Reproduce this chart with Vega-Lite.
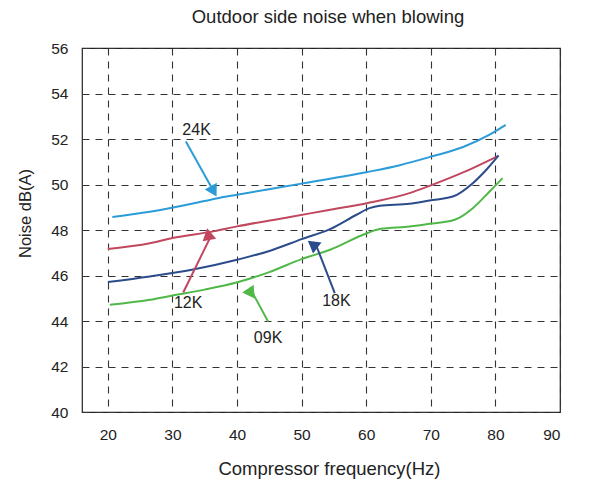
{
  "$schema": "https://vega.github.io/schema/vega-lite/v6.json",
  "width": 478,
  "height": 364,
  "autosize": "none",
  "padding": {"left": 82, "top": 48, "right": 29, "bottom": 74},
  "background": "white",
  "config": {
    "font": "Liberation Sans",
    "view": {"stroke": "#222", "strokeWidth": 1.2}
  },
  "title": {
    "text": "Outdoor side noise when blowing",
    "fontSize": 18.5,
    "fontWeight": "normal",
    "color": "#222",
    "anchor": "middle",
    "dx": 7,
    "offset": 15
  },
  "datasets": {
    "curves": [
      {"model": "24K", "f": 20.7, "db": 48.57},
      {"model": "24K", "f": 26.5, "db": 48.8},
      {"model": "24K", "f": 33, "db": 49.15},
      {"model": "24K", "f": 37, "db": 49.4},
      {"model": "24K", "f": 40, "db": 49.55},
      {"model": "24K", "f": 50.2, "db": 50.05},
      {"model": "24K", "f": 60.2, "db": 50.55},
      {"model": "24K", "f": 65.2, "db": 50.85},
      {"model": "24K", "f": 70.1, "db": 51.23},
      {"model": "24K", "f": 75, "db": 51.65},
      {"model": "24K", "f": 79.1, "db": 52.19},
      {"model": "24K", "f": 81.6, "db": 52.62},
      {"model": "12K", "f": 20, "db": 47.17},
      {"model": "12K", "f": 26.5, "db": 47.42},
      {"model": "12K", "f": 30, "db": 47.65},
      {"model": "12K", "f": 36.3, "db": 47.94},
      {"model": "12K", "f": 40, "db": 48.16},
      {"model": "12K", "f": 48.2, "db": 48.57},
      {"model": "12K", "f": 54, "db": 48.87},
      {"model": "12K", "f": 60.1, "db": 49.18},
      {"model": "12K", "f": 66.7, "db": 49.62},
      {"model": "12K", "f": 69.8, "db": 49.94},
      {"model": "12K", "f": 75, "db": 50.53},
      {"model": "12K", "f": 80.3, "db": 51.24},
      {"model": "18K", "f": 20, "db": 45.71},
      {"model": "18K", "f": 26.5, "db": 45.96},
      {"model": "18K", "f": 33, "db": 46.25},
      {"model": "18K", "f": 40, "db": 46.69},
      {"model": "18K", "f": 45, "db": 47.08},
      {"model": "18K", "f": 50, "db": 47.6},
      {"model": "18K", "f": 54.4, "db": 48.04},
      {"model": "18K", "f": 58.5, "db": 48.67},
      {"model": "18K", "f": 60.5, "db": 48.96},
      {"model": "18K", "f": 62.1, "db": 49.07},
      {"model": "18K", "f": 66.7, "db": 49.15},
      {"model": "18K", "f": 69.8, "db": 49.3},
      {"model": "18K", "f": 73.4, "db": 49.47},
      {"model": "18K", "f": 76.5, "db": 50.06},
      {"model": "18K", "f": 78.6, "db": 50.65},
      {"model": "18K", "f": 80.5, "db": 51.28},
      {"model": "09K", "f": 20.3, "db": 44.71},
      {"model": "09K", "f": 26.5, "db": 44.93},
      {"model": "09K", "f": 30, "db": 45.12},
      {"model": "09K", "f": 35, "db": 45.38},
      {"model": "09K", "f": 39.9, "db": 45.69},
      {"model": "09K", "f": 45, "db": 46.15},
      {"model": "09K", "f": 50, "db": 46.72},
      {"model": "09K", "f": 54.4, "db": 47.13},
      {"model": "09K", "f": 60.1, "db": 47.86},
      {"model": "09K", "f": 62.1, "db": 48.04},
      {"model": "09K", "f": 66.7, "db": 48.15},
      {"model": "09K", "f": 69.8, "db": 48.27},
      {"model": "09K", "f": 73.7, "db": 48.45},
      {"model": "09K", "f": 76.5, "db": 48.96},
      {"model": "09K", "f": 79.1, "db": 49.69},
      {"model": "09K", "f": 81.1, "db": 50.28}
    ],
    "arrows": [
      {"model": "24K", "f0": 32.08, "db0": 51.89, "f1": 36.38, "db1": 49.7, "lf": 33.74, "ldb": 52.4},
      {"model": "12K", "f0": 31.67, "db0": 45.25, "f1": 35.9, "db1": 47.7, "lf": 32.44, "ldb": 44.79},
      {"model": "18K", "f0": 55.13, "db0": 45.23, "f1": 52.22, "db1": 47.35, "lf": 55.39, "ldb": 44.89},
      {"model": "09K", "f0": 44.81, "db0": 43.98, "f1": 42.17, "db1": 45.36, "lf": 44.81, "ldb": 43.25}
    ]
  },
  "encoding": {},
  "layer": [
    {
      "data": {"name": "curves"},
      "mark": {"type": "line", "interpolate": "monotone", "strokeWidth": 2, "clip": true},
      "encoding": {
        "x": {
          "field": "f", "type": "quantitative",
          "scale": {"domain": [16, 90], "nice": false, "zero": false},
          "axis": {
            "title": "Compressor frequency(Hz)",
            "values": [20, 30, 40, 50, 60, 70, 80, 90],
            "grid": true, "gridDash": [7, 6], "gridColor": "#333", "gridOpacity": 1, "gridWidth": 1.1,
            "domain": false, "ticks": false,
            "labelFontSize": 15.5, "labelColor": "#222", "labelPadding": 15,
            "titleFontSize": 18.5, "titleFontWeight": "normal", "titleColor": "#222",
            "titleX": 247, "titleY": 56, "titleBaseline": "middle", "titleAlign": "center"
          }
        },
        "y": {
          "field": "db", "type": "quantitative",
          "scale": {"domain": [40, 56], "nice": false, "zero": false},
          "axis": {
            "title": "Noise dB(A)",
            "values": [40, 42, 44, 46, 48, 50, 52, 54, 56],
            "grid": true, "gridDash": [7, 6], "gridColor": "#333", "gridOpacity": 1, "gridWidth": 1.1,
            "domain": false, "ticks": false,
            "labelFontSize": 15.5, "labelColor": "#222", "labelPadding": 14,
            "titleFontSize": 16.5, "titleFontWeight": "normal", "titleColor": "#222",
            "titleX": -57, "titleY": 165, "titleBaseline": "middle", "titleAlign": "center", "titleAngle": -90
          }
        },
        "color": {
          "field": "model", "type": "nominal",
          "scale": {"domain": ["24K", "12K", "18K", "09K"], "range": ["#2b9cd8", "#c0475e", "#2b4b8b", "#50b848"]},
          "legend": null
        }
      }
    },
    {
      "data": {"name": "arrows"},
      "mark": {"type": "rule", "strokeWidth": 2},
      "encoding": {
        "x": {"field": "f0", "type": "quantitative"},
        "y": {"field": "db0", "type": "quantitative"},
        "x2": {"field": "f1"},
        "y2": {"field": "db1"},
        "color": {"field": "model", "type": "nominal"}
      }
    },
    {
      "data": {"name": "arrows"},
      "mark": {"type": "point", "shape": "triangle-up", "filled": true, "opacity": 1, "size": 190},
      "encoding": {
        "x": {"field": "f1", "type": "quantitative"},
        "y": {"field": "db1", "type": "quantitative"},
        "color": {"field": "model", "type": "nominal"},
        "angle": {
          "field": "model", "type": "nominal",
          "scale": {"domain": ["24K", "12K", "18K", "09K"], "range": [151, 26, -21, -29]},
          "legend": null
        }
      }
    },
    {
      "data": {"name": "arrows"},
      "mark": {"type": "text", "fontSize": 16, "color": "#222"},
      "encoding": {
        "x": {"field": "lf", "type": "quantitative"},
        "y": {"field": "ldb", "type": "quantitative"},
        "text": {"field": "model"}
      }
    }
  ]
}
